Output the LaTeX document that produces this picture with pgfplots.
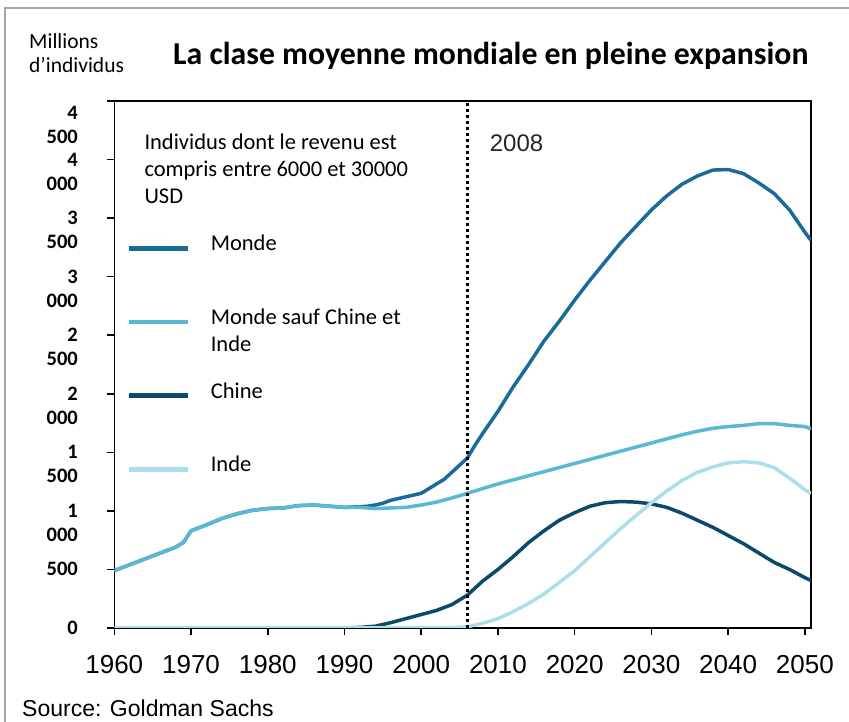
\documentclass[border=0pt]{standalone}
\usepackage{pgfplots}
\pgfplotsset{compat=1.18}
\usepackage{fontspec}
\setmainfont{Carlito}
\newfontfamily\arialfont{Liberation Sans}
\definecolor{cMonde}{HTML}{1A6A9A}
\definecolor{cSauf}{HTML}{5AB8D4}
\definecolor{cChine}{HTML}{0B4A6A}
\definecolor{cInde}{HTML}{AADFE9}
\protected\def\yl#1#2{\begin{tabular}[t]{@{}r@{}}#1\\#2\end{tabular}}
\tikzset{ylab/.style={anchor=base east, inner sep=0pt, font=\fontsize{20.5}{24}\selectfont\bfseries}}
\begin{document}
\begin{tikzpicture}[x=1pt,y=1pt]
\path[use as bounding box] (0,0) rectangle (849,722);
\draw[gray!70, line width=1.5pt] (5,0) -- (5,714) -- (849,714);
\node[anchor=base west, inner sep=0pt, font=\fontsize{31.8}{36}\selectfont\bfseries] at (173,657) {La clase moyenne mondiale en pleine expansion};
\node[anchor=base west, inner sep=0pt, font=\fontsize{21.5}{25}\selectfont] at (29,673.7) {Millions};
\node[anchor=base west, inner sep=0pt, font=\fontsize{21.5}{25}\selectfont] at (29,649) {d’individus};
\begin{axis}[
  at={(114.3pt,94pt)}, anchor=south west,
  scale only axis, width=696.7pt, height=527pt,
  xmin=1960, xmax=2050.8, ymin=0, ymax=4500,
  axis line style={black, line width=1.5pt},
  xtick={1960,1970,...,2050},
  xticklabels={1960,1970,1980,1990,2000,2010,2020,2030,2040,2050},
  ytick={0,500,...,4500},
  yticklabels={},
  tick align=outside, major tick length=7pt, xtick pos=bottom, ytick pos=left,
  tick style={black, line width=1.5pt},
  xticklabel style={font=\arialfont\fontsize{26}{26}\selectfont, anchor=base, inner sep=0pt, yshift=-39pt},
  legend style={at={(axis description cs:0.0178,0.7443)}, anchor=north west, draw=none, fill=none,
    inner sep=0pt, outer sep=0pt, row sep=52.27pt, column sep=20pt,
    font=\fontsize{22.5}{27}\selectfont,
    nodes={inner sep=0pt, text height=15pt, text depth=6.4pt}},
  legend cell align=left,
  legend image code/.code={\draw[#1, line width=4.8pt] (0pt,-1.8pt) -- (59.3pt,-1.8pt);},
  every axis plot/.append style={line width=3.5pt, line join=round},
]
% Monde
\addplot[cMonde] coordinates {
(1960,490) (1962,540) (1964,590) (1966,640) (1968,690) (1969,730) (1970,830)
(1972,880) (1974,935) (1976,975) (1978,1005) (1980,1020) (1982,1025) (1984,1045)
(1986,1050) (1988,1040) (1990,1030) (1992,1035) (1993,1040) (1994,1050) (1995,1065)
(1996,1090) (1998,1120) (2000,1150) (2001,1190) (2002,1230) (2003,1270) (2004,1330)
(2005,1390) (2006,1450) (2007,1560) (2008,1660) (2010,1850) (2012,2060) (2014,2250)
(2016,2450) (2018,2620) (2020,2800) (2022,2970) (2024,3130) (2026,3290) (2028,3430)
(2030,3570) (2032,3690) (2034,3790) (2036,3860) (2038,3910) (2040,3915) (2042,3880)
(2044,3800) (2046,3710) (2048,3570) (2050,3380) (2050.8,3310)};
\addlegendentry{Monde}
% Monde sauf Chine et Inde
\addplot[cSauf] coordinates {
(1960,490) (1962,540) (1964,590) (1966,640) (1968,690) (1969,730) (1970,830)
(1972,880) (1974,935) (1976,975) (1978,1005) (1980,1020) (1982,1025) (1984,1045)
(1986,1050) (1988,1040) (1990,1030) (1992,1030) (1994,1020) (1996,1025) (1998,1030)
(2000,1050) (2002,1075) (2004,1110) (2006,1150) (2008,1190) (2010,1230) (2012,1265)
(2014,1300) (2016,1335) (2018,1370) (2020,1405) (2022,1440) (2024,1475) (2026,1510)
(2028,1545) (2030,1580) (2032,1615) (2034,1650) (2036,1680) (2038,1705) (2040,1720)
(2042,1730) (2044,1745) (2046,1745) (2048,1730) (2050,1720) (2050.8,1700)};
\addlegendentry{\begin{tabular}[t]{@{}l@{}}Monde sauf Chine et\\Inde\end{tabular}}
% Chine
\addplot[cChine] coordinates {
(1990,0) (1992,5) (1994,15) (1996,45) (1998,80) (2000,115) (2002,150) (2004,200)
(2006,280) (2008,400) (2010,500) (2012,610) (2014,730) (2016,830) (2018,920)
(2020,985) (2022,1040) (2024,1070) (2026,1080) (2028,1075) (2030,1060) (2032,1030)
(2034,980) (2036,920) (2038,860) (2040,790) (2042,720) (2044,640) (2046,560)
(2048,500) (2050,430) (2050.8,405)};
\addlegendentry{Chine}
% Inde
\addplot[cInde] coordinates {
(1960,0) (2003,0) (2006,10) (2008,40) (2010,80) (2012,140) (2014,210) (2016,290)
(2018,390) (2020,490) (2022,610) (2024,730) (2026,850) (2028,960) (2030,1070)
(2032,1170) (2034,1260) (2036,1330) (2038,1375) (2040,1410) (2042,1420) (2044,1410)
(2046,1370) (2048,1280) (2050,1180) (2050.8,1150)};
\addlegendentry{Inde}
% 2008 marker line
\addplot[black, line width=3pt, dash pattern=on 3pt off 3pt, forget plot] coordinates {(2006,0) (2006,4500)};
\end{axis}
% y tick labels (first line centred on each tick)
\node[ylab] at (78,87.5) {0};
\node[ylab] at (78,146.06) {500};
\node[ylab] at (78,204.61) {\yl{1}{000}};
\node[ylab] at (78,263.17) {\yl{1}{500}};
\node[ylab] at (78,321.72) {\yl{2}{000}};
\node[ylab] at (78,380.28) {\yl{2}{500}};
\node[ylab] at (78,438.83) {\yl{3}{000}};
\node[ylab] at (78,497.39) {\yl{3}{500}};
\node[ylab] at (78,555.94) {\yl{4}{000}};
\node[ylab] at (78,602.5) {\yl{4}{500}};
\node[anchor=base west, inner sep=0pt, font=\fontsize{22.5}{27}\selectfont] at (144.3,572)
  {\begin{tabular}[t]{@{}l@{}}Individus dont le revenu est\\compris entre 6000 et 30000\\USD\end{tabular}};
\node[anchor=base west, inner sep=0pt, font=\arialfont\fontsize{24}{24}\selectfont, text=black!85] at (489.7,570) {2008};
\node[anchor=base west, inner sep=0pt, font=\arialfont\fontsize{23}{23}\selectfont] at (22,5) {Source: Goldman Sachs};
\end{tikzpicture}
\end{document}
